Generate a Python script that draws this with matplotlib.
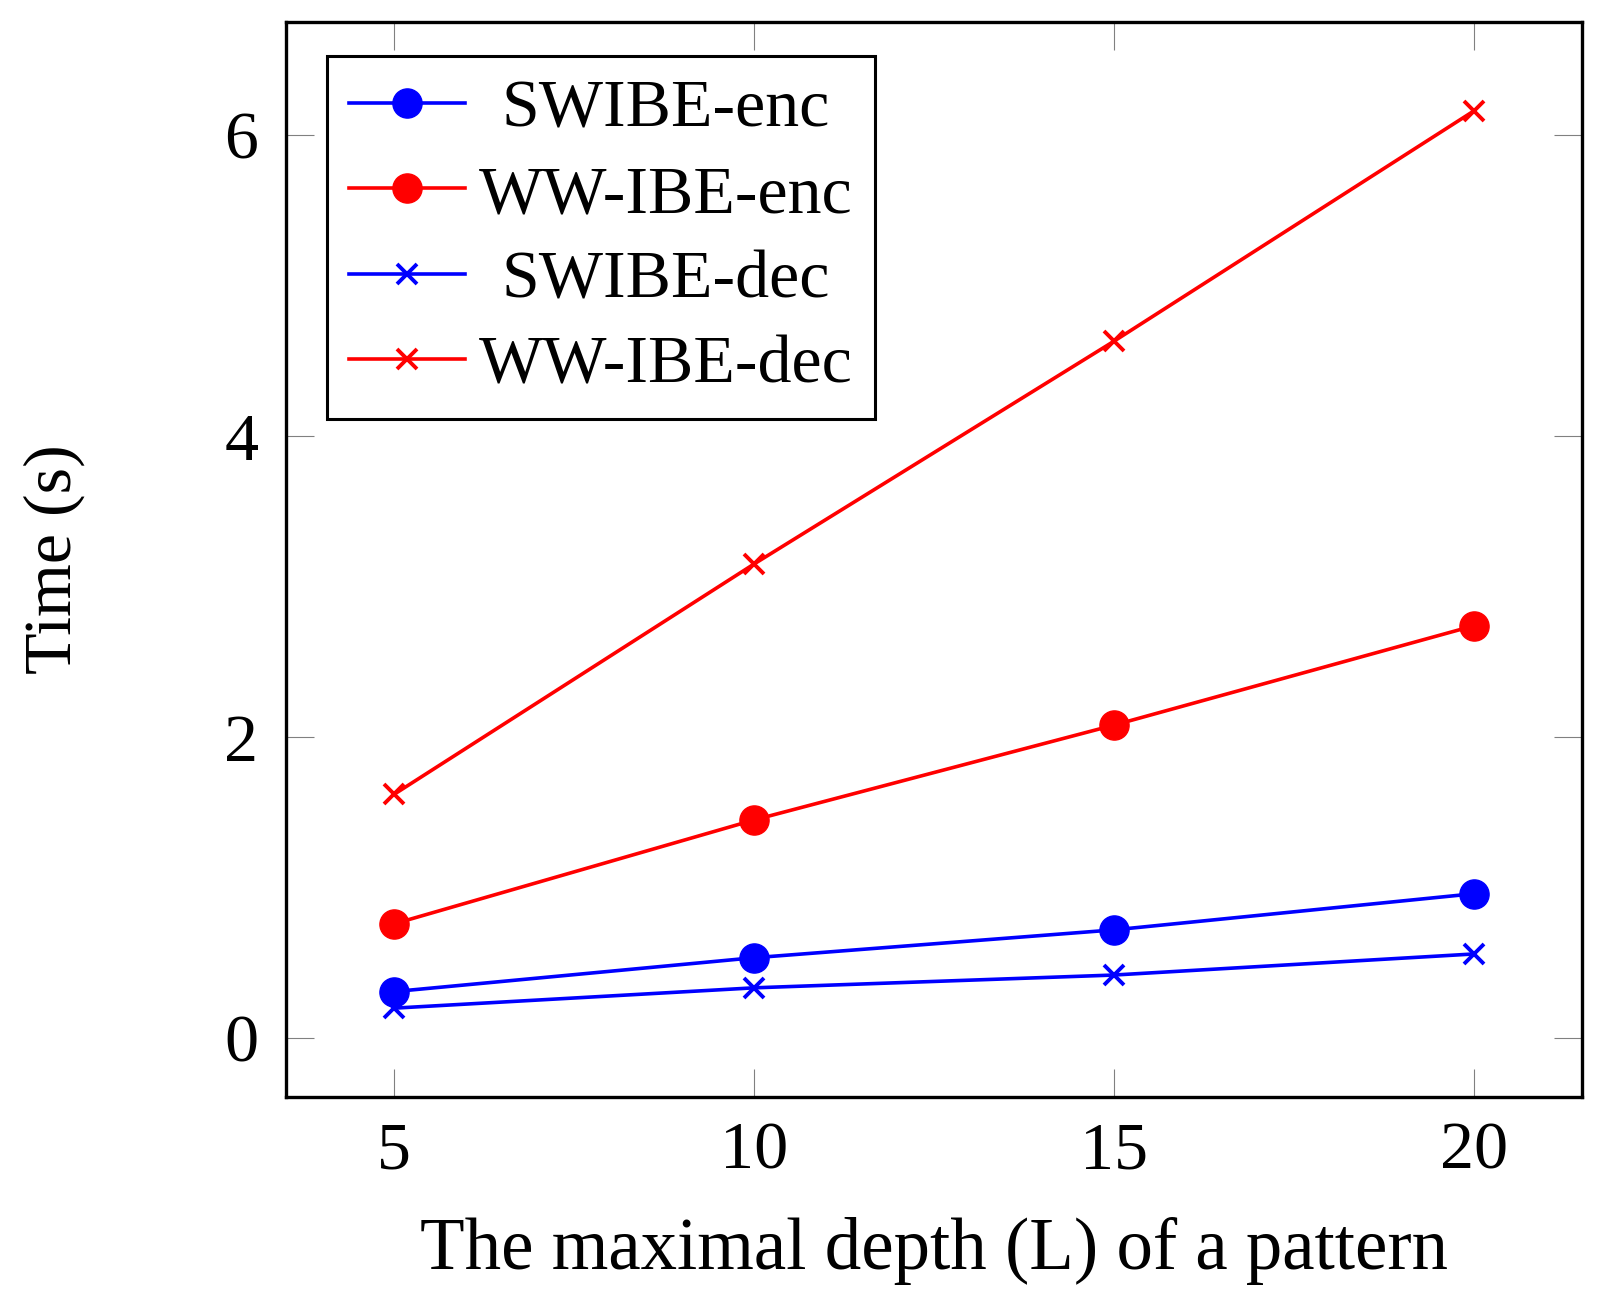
import matplotlib
matplotlib.use("Agg")
import matplotlib.pyplot as plt
import matplotlib.transforms as mtransforms

# --- dados ---
profundidade = [5, 10, 15, 20]
swibe_enc = [0.31, 0.535, 0.72, 0.96]
wwibe_enc = [0.76, 1.45, 2.08, 2.74]
swibe_dec = [0.20, 0.335, 0.42, 0.56]
wwibe_dec = [1.62, 3.15, 4.63, 6.16]

y_ticks = [0, 2, 4, 6]
x_label = "The maximal depth (L) of a pattern"
y_label = "Time (s)"

plt.rcParams['font.family'] = ['Liberation Serif', 'DejaVu Serif']
fs = 49

fig = plt.figure(figsize=(16.07, 13.05), dpi=100)
ax = fig.add_axes([0.178, 0.1594, 0.8064, 0.8237])

ax.plot(profundidade, swibe_enc, color='blue', lw=2.6, marker='o', ms=21,
        label='SWIBE-enc')
ax.plot(profundidade, wwibe_enc, color='red', lw=2.6, marker='o', ms=21,
        label='WW-IBE-enc')
ax.plot(profundidade, swibe_dec, color='blue', lw=2.6, marker='x', ms=15,
        mew=2.8, label='SWIBE-dec')
ax.plot(profundidade, wwibe_dec, color='red', lw=2.6, marker='x', ms=15,
        mew=2.8, label='WW-IBE-dec')

ax.set_xlim(3.5, 21.5)
ax.set_ylim(-0.39, 6.75)
ax.set_xticks(profundidade)
ax.set_yticks(y_ticks)

for s in ax.spines.values():
    s.set_linewidth(2.4)
ax.tick_params(direction='in', top=True, right=True, length=20, width=0.8,
               color='gray', labelsize=fs)
ax.tick_params(axis='y', pad=20)
ax.tick_params(axis='x', pad=18)

ax.set_xlabel(x_label, fontsize=52.5)
ax.set_ylabel(y_label, fontsize=fs)
ax.xaxis.set_label_coords(0.5, -0.112)
ax.yaxis.set_label_coords(-0.155, 0.5)

leg = ax.legend(loc='upper left', bbox_to_anchor=(0.0316, 0.968),
                borderaxespad=0, fontsize=fs, fancybox=False,
                edgecolor='black', framealpha=1, handlelength=1.7,
                handletextpad=0.2, labelspacing=0.35, borderpad=0.33)
leg.get_frame().set_linewidth(2.2)

# centraliza o texto da legenda como no pgfplots
fig.canvas.draw()
textos = leg.get_texts()
larguras = [t.get_window_extent().width for t in textos]
wmax = max(larguras)
for t, w in zip(textos, larguras):
    dx = (wmax - w) / 2
    t.set_transform(t.get_transform() + mtransforms.Affine2D().translate(dx, 0))

fig.savefig("out.png", dpi=100)
